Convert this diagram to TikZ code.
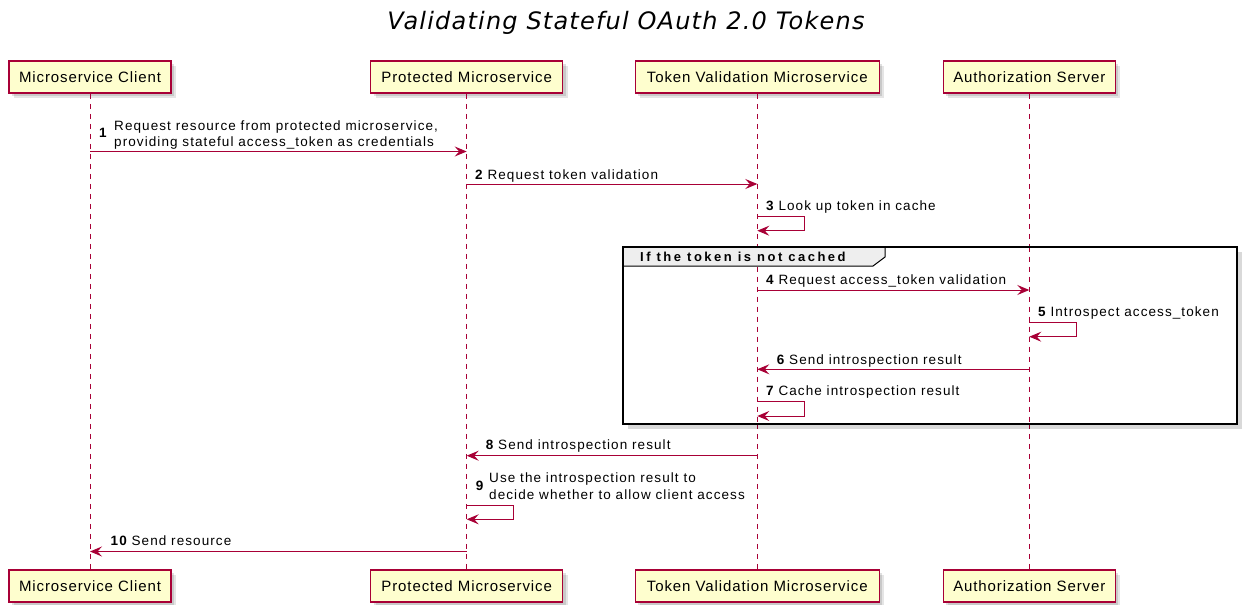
\documentclass[tikz,border=0pt]{standalone}
\usepackage{fontspec}
\setmainfont{Liberation Sans}
\newfontfamily\titlefont[LetterSpace=5]{DejaVu Sans}
\newfontfamily\msgfont[LetterSpace=8]{Liberation Sans}
\newfontfamily\partfont[LetterSpace=6]{Liberation Sans}
\newfontfamily\grpfont[LetterSpace=19]{Liberation Sans}
\usetikzlibrary{arrows.meta}
\definecolor{puml}{HTML}{A80036}
\definecolor{pfill}{HTML}{FEFECE}
\definecolor{hdr}{HTML}{EEEEEE}
\tikzset{
  shade1/.style={preaction={fill=black, opacity=0.10, transform canvas={xshift=5pt,yshift=-5pt}},
                 preaction={fill=black, opacity=0.12, transform canvas={xshift=3pt,yshift=-3pt}}},
  part/.style={draw=puml, line width=1.5pt, fill=pfill, shade1, minimum height=32pt, inner sep=0pt,
               font=\partfont\fontsize{15}{17}\selectfont},
  life/.style={draw=puml, line width=1pt, dash pattern=on 5pt off 5pt},
  msg/.style={draw=puml, line width=1pt, -{Stealth[length=12pt,width=10pt,inset=4.5pt]}},
  lbl/.style={anchor=base west, inner sep=0pt, font=\msgfont\fontsize{13.5}{16}\selectfont},
  grp/.style={draw=black, line width=2pt},
}
\begin{document}
\begin{tikzpicture}[x=1pt,y=-1pt]
\useasboundingbox (0,0) rectangle (1243,605);
% title
\node[anchor=base, inner sep=0pt, font=\titlefont\itshape\fontsize{24}{28}\selectfont] (title) at (626,29) {Validating Stateful OAuth 2.0 Tokens};
% participants
\node[part, minimum width=162pt] (c1) at (90,77) {Microservice Client};
\node[part, minimum width=192pt] (p1) at (466.7,77) {Protected Microservice};
\node[part, minimum width=244pt] (t1) at (757.3,77) {Token Validation Microservice};
\node[part, minimum width=172pt] (a1) at (1029.3,77) {Authorization Server};
\node[part, minimum width=162pt] (c2) at (90,586) {Microservice Client};
\node[part, minimum width=192pt] (p2) at (466.7,586) {Protected Microservice};
\node[part, minimum width=244pt] (t2) at (757.3,586) {Token Validation Microservice};
\node[part, minimum width=172pt] (a2) at (1029.3,586) {Authorization Server};
% lifelines
\draw[life] (c1.south) -- (c2.north);
\draw[life] (p1.south) -- (p2.north);
\draw[life] (t1.south) -- (t2.north);
\draw[life] (a1.south) -- (a2.north);
% group frame
\path[fill=black, opacity=0.15] (627.7,251.7) rectangle (1242,429);
\path[fill=white] (622.7,246.7) rectangle (1237,424);
\draw[life] (t1.south |- 0,246.7) -- (t1.south |- 0,424);
\draw[life] (a1.south |- 0,246.7) -- (a1.south |- 0,424);
\draw[fill=hdr, draw=black, line width=1pt] (622.7,246.7) -- (885,246.7) -- (885,257) -- (873,266) -- (622.7,266) -- cycle;
\draw[grp] (622.7,246.7) rectangle (1237,424);
\node[anchor=base west, inner sep=0pt, font=\grpfont\bfseries\fontsize{13}{15}\selectfont] (grpl) at (640,261.7) {If the token is not cached};
% 1
\node[lbl] (n1) at (99,137.7) {\bfseries 1};
\node[lbl] (m1a) at (114,130) {Request resource from protected microservice,};
\node[lbl] (m1b) at (114,146) {providing stateful access\_token as credentials};
\draw[msg] (c1.south |- 0,151.5) -- (p1.south |- 0,151.5);
% 2
\node[lbl] (m2) at (475,179.3) {\bfseries 2\mdseries\ Request token validation};
\draw[msg] (p1.south |- 0,184) -- (t1.south |- 0,184);
% 3
\node[lbl] (m3) at (766,210) {\bfseries 3\mdseries\ Look up token in cache};
\draw[msg] (t1.south |- 0,216) -- (804,216) -- (804,230.7) -- (t1.south |- 0,230.7);
% 4
\node[lbl] (m4) at (766,284) {\bfseries 4\mdseries\ Request access\_token validation};
\draw[msg] (t1.south |- 0,290) -- (a1.south |- 0,290);
% 5
\node[lbl] (m5) at (1038,316.7) {\bfseries 5\mdseries\ Introspect access\_token};
\draw[msg] (a1.south |- 0,322.3) -- (1076.7,322.3) -- (1076.7,336.7) -- (a1.south |- 0,336.7);
% 6
\node[lbl] (m6) at (776.7,364) {\bfseries 6\mdseries\ Send introspection result};
\draw[msg] (a1.south |- 0,369.3) -- (t1.south |- 0,369.3);
% 7
\node[lbl] (m7) at (766,395) {\bfseries 7\mdseries\ Cache introspection result};
\draw[msg] (t1.south |- 0,401.7) -- (804,401.7) -- (804,416) -- (t1.south |- 0,416);
% 8
\node[lbl] (m8) at (485.7,449.5) {\bfseries 8\mdseries\ Send introspection result};
\draw[msg] (t1.south |- 0,455.7) -- (p1.south |- 0,455.7);
% 9
\node[lbl] (n9) at (475.7,490.7) {\bfseries 9};
\node[lbl] (m9a) at (489,482.7) {Use the introspection result to};
\node[lbl] (m9b) at (489,499) {decide whether to allow client access};
\draw[msg] (p1.south |- 0,505) -- (513,505) -- (513,519.3) -- (p1.south |- 0,519.3);
% 10
\node[lbl] (m10) at (110.5,545.8) {\bfseries 10\mdseries\ Send resource};
\draw[msg] (p1.south |- 0,551.5) -- (c1.south |- 0,551.5);
\end{tikzpicture}
\end{document}
